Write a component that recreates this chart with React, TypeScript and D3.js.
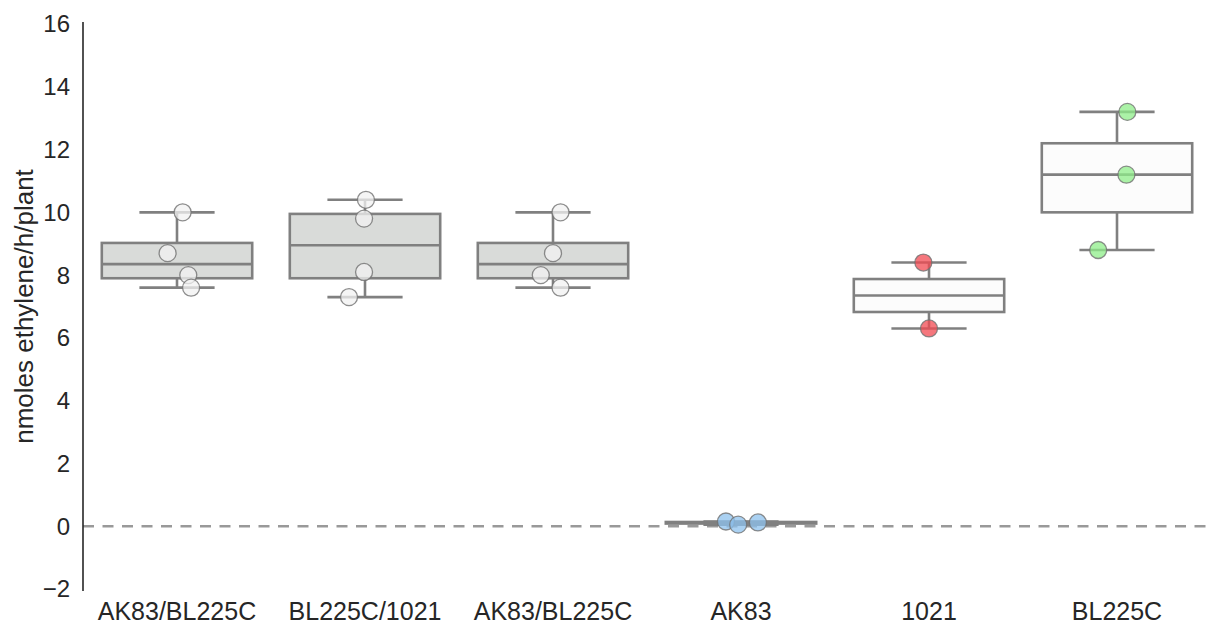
import React from "react";
import * as d3 from "d3";

const categories = ["AK83/BL225C", "BL225C/1021", "AK83/BL225C#2", "AK83", "1021", "BL225C"];
const categoryLabels = ["AK83/BL225C", "BL225C/1021", "AK83/BL225C", "AK83", "1021", "BL225C"];
const values: number[][] = [
  [10.0, 8.7, 8.0, 7.6],
  [10.4, 9.8, 8.1, 7.3],
  [10.0, 8.7, 8.0, 7.6],
  [0.15, 0.05, 0.12],
  [8.4, 6.3],
  [13.2, 11.2, 8.8],
];
// horizontal jitter of each point, as fraction of band width
const jitter: number[][] = [
  [0.03, -0.05, 0.06, 0.075],
  [0.005, -0.005, -0.005, -0.085],
  [0.04, 0.0, -0.065, 0.04],
  [-0.08, -0.015, 0.09],
  [-0.03, 0.0],
  [0.055, 0.05, -0.1],
];
const boxFills = ["#d9dbd9", "#d9dbd9", "#d9dbd9", "#d9dbd9", "#fcfcfc", "#fcfcfc"];
const pointFills = ["#f2f2f2", "#f2f2f2", "#f2f2f2", "#8ec2ee", "#f24a52", "#8fee8a"];
const yTicks = [-2, 0, 2, 4, 6, 8, 10, 12, 14, 16];

const W = 1206, H = 624;
const left = 83, right = 1211, top = 24, bottom = 589;

function q(arr: number[], p: number) {
  return d3.quantile([...arr].sort((a, b) => a - b), p) as number;
}

export default function App() {
  const x = d3.scaleBand().domain(categories).range([left, right]).padding(0);
  const y = d3.scaleLinear().domain([-2, 16]).range([bottom, top]);
  const bw = x.bandwidth();
  const boxW = bw * 0.8;
  const edge = "#808080";
  const font = "'Liberation Sans', Arial, sans-serif";
  return (
    <svg width={W} height={H} style={{ position: "absolute", left: 0, top: 0, background: "#fff" }}>
      <line x1={left} x2={W} y1={y(0)} y2={y(0)} stroke="#999" strokeWidth={2.4} strokeDasharray="11,8.5" />
      <line x1={left} x2={left} y1={y(16) - 2} y2={y(-2) + 2} stroke="#262626" strokeWidth={1.6} />
      {yTicks.map((t) => (
        <text key={t} x={left - 13} y={y(t)} dy="0.35em" textAnchor="end" fontSize={24} fill="#262626" fontFamily={font}>
          {t < 0 ? "\u2212" + Math.abs(t) : t}
        </text>
      ))}
      <text transform={`translate(33,${(top + bottom) / 2}) rotate(-90)`} textAnchor="middle" fontSize={26} fill="#262626" fontFamily={font}>
        nmoles ethylene/h/plant
      </text>
      {categories.map((c, i) => {
        const vals = values[i];
        const cx = (x(c) as number) + bw / 2;
        const q1 = q(vals, 0.25), med = q(vals, 0.5), q3 = q(vals, 0.75);
        const lo = d3.min(vals) as number, hi = d3.max(vals) as number;
        return (
          <g key={c}>
            <line x1={cx} x2={cx} y1={y(q3)} y2={y(hi)} stroke={edge} strokeWidth={2.6} />
            <line x1={cx} x2={cx} y1={y(q1)} y2={y(lo)} stroke={edge} strokeWidth={2.6} />
            <line x1={cx - boxW / 4} x2={cx + boxW / 4} y1={y(hi)} y2={y(hi)} stroke={edge} strokeWidth={2.6} />
            <line x1={cx - boxW / 4} x2={cx + boxW / 4} y1={y(lo)} y2={y(lo)} stroke={edge} strokeWidth={2.6} />
            <rect x={cx - boxW / 2} width={boxW} y={y(q3)} height={Math.max(0.5, y(q1) - y(q3))} fill={boxFills[i]} stroke={edge} strokeWidth={2.6} />
            <line x1={cx - boxW / 2} x2={cx + boxW / 2} y1={y(med)} y2={y(med)} stroke={edge} strokeWidth={2.6} />
            <text x={cx} y={y(-2) + 31} textAnchor="middle" fontSize={25} fill="#262626" fontFamily={font}>
              {categoryLabels[i]}
            </text>
          </g>
        );
      })}
      {categories.map((c, i) => {
        const cx = (x(c) as number) + bw / 2;
        return values[i].map((v, j) => (
          <circle key={c + j} cx={cx + jitter[i][j] * bw} cy={y(v)} r={8.5} fill={pointFills[i]} fillOpacity={0.75} stroke="#707070" strokeOpacity={0.8} strokeWidth={1.3} />
        ));
      })}
    </svg>
  );
}
